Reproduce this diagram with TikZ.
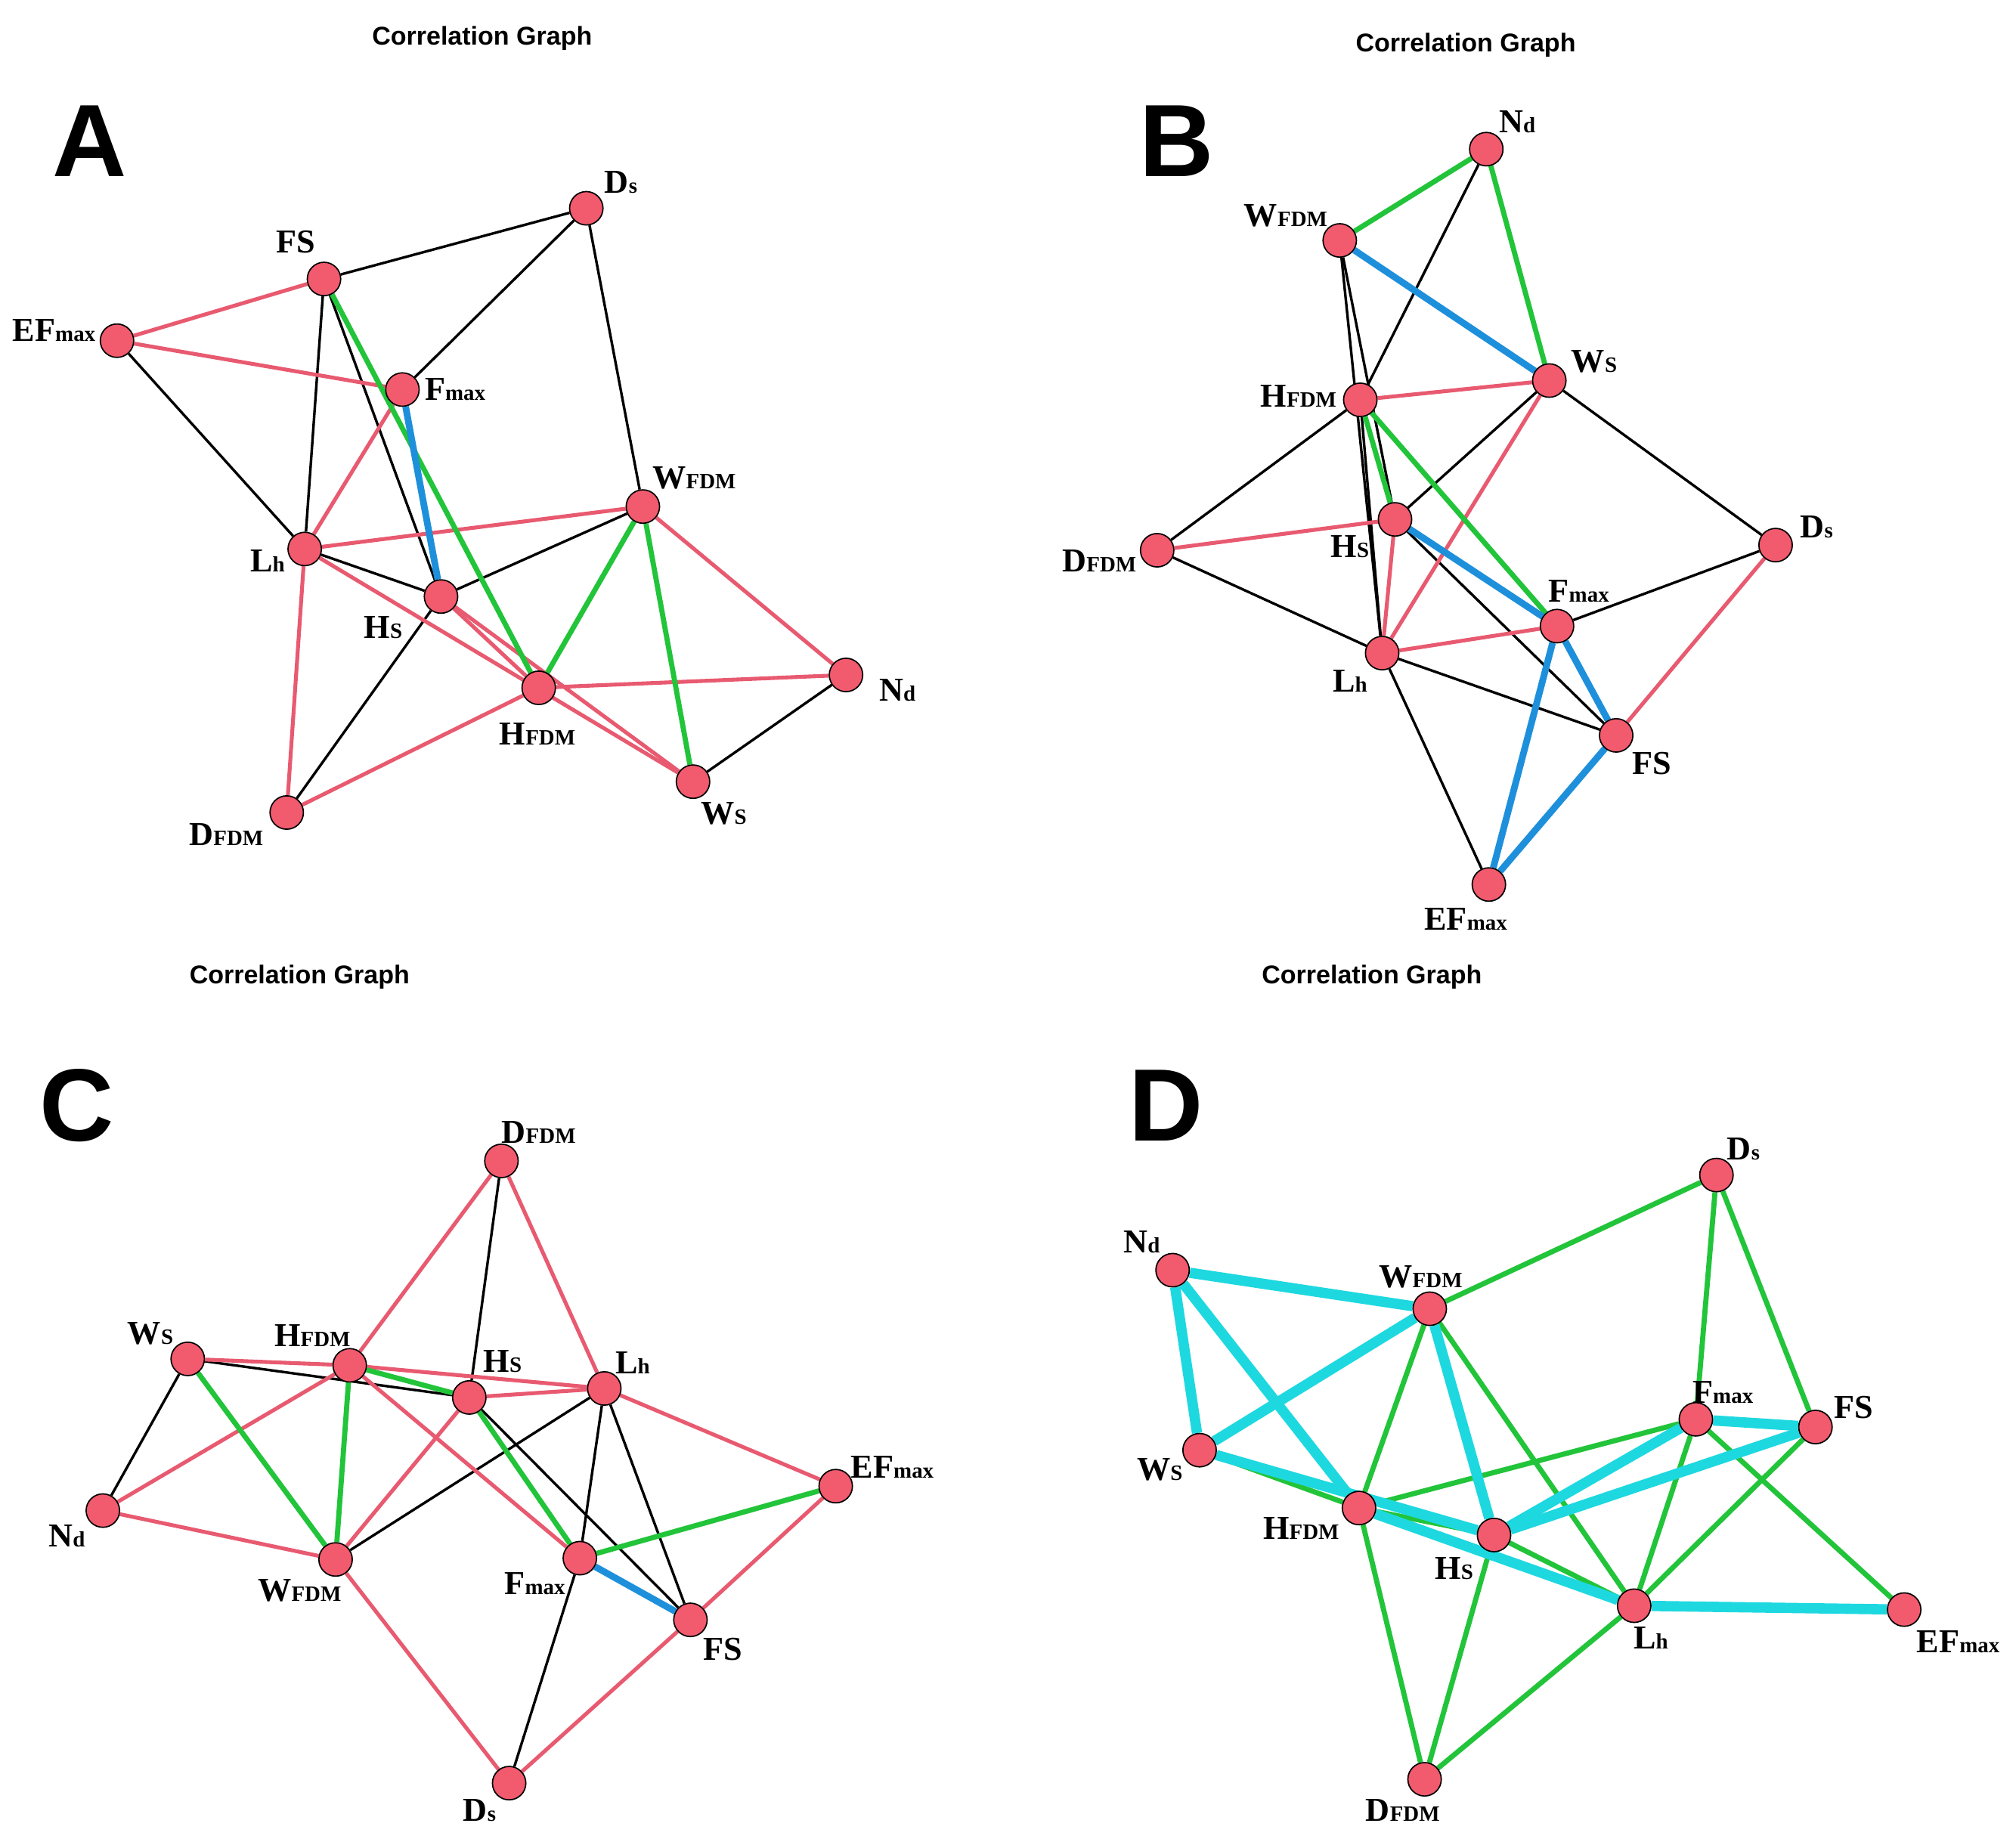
\documentclass[tikz,border=0pt]{standalone}
\usepackage{fontspec}
\usetikzlibrary{backgrounds}
\setmainfont{Liberation Serif}
\newfontfamily\sansf{Liberation Sans}
\definecolor{nred}{HTML}{F25A6E}
\definecolor{ered}{HTML}{E85A70}
\definecolor{egreen}{HTML}{22C43A}
\definecolor{eblue}{HTML}{1E90DB}
\definecolor{ecyan}{HTML}{1ED8E0}
\newcommand\lb[2]{{\fontsize{13}{14}\selectfont\bfseries #1}{\fontsize{8.5}{9}\selectfont\bfseries #2}}
\newcommand\V[6]{\node[v] (#1) at (#2,#3) {}; \node[lab] (#1l) at (#4,#5) {#6};}
\newcommand\E[2]{\foreach \p/\q in {#2} \draw[#1] (\p) -- (\q);}
\begin{document}
\begin{tikzpicture}[x=0.5pt,y=-0.5pt,
  v/.style={circle,draw=black,line width=0.5pt,fill=nred,minimum size=13pt,inner sep=0pt},
  lab/.style={inner sep=0pt},
  k/.style={draw=black,line width=1pt},
  r/.style={draw=ered,line width=1.5pt},
  g/.style={draw=egreen,line width=2pt},
  b/.style={draw=eblue,line width=2.6pt},
  c/.style={draw=ecyan,line width=4pt},
  ttl/.style={font=\sansf\bfseries\fontsize{10}{11}\selectfont},
  pl/.style={font=\sansf\bfseries\fontsize{40}{40}\selectfont}]
\useasboundingbox (0,0) rectangle (1568,1437);
\node[ttl] (t1) at (375,30) {Correlation Graph};
\node[ttl] (t2) at (1140,35) {Correlation Graph};
\node[ttl] (t3) at (233,760) {Correlation Graph};
\node[ttl] (t4) at (1067,760) {Correlation Graph};
\node[pl] (pA) at (70,110) {A};
\node[pl] (pB) at (915,110) {B};
\node[pl] (pC) at (60,860) {C};
\node[pl] (pD) at (907,860) {D};
% ---------- A
\V{aFS}{252}{217}{230}{188}{\lb{FS}{}}
\V{aDs}{456}{162}{483}{142}{\lb{D}{s}}
\V{aEF}{91}{265}{42}{257}{\lb{EF}{max}}
\V{aFm}{313}{303}{354}{303}{\lb{F}{max}}
\V{aWF}{500}{394}{540}{372}{\lb{W}{FDM}}
\V{aLh}{237}{427}{208}{436}{\lb{L}{h}}
\V{aHs}{343}{464}{298}{488}{\lb{H}{S}}
\V{aNd}{658}{525}{698}{537}{\lb{N}{d}}
\V{aHF}{419}{535}{418}{571}{\lb{H}{FDM}}
\V{aWs}{539}{608}{563}{633}{\lb{W}{S}}
\V{aDF}{223}{632}{176}{649}{\lb{D}{FDM}}
% ---------- B
\V{bNd}{1156}{116}{1180}{95}{\lb{N}{d}}
\V{bWF}{1042}{187}{1000}{168}{\lb{W}{FDM}}
\V{bWs}{1205}{296}{1240}{281}{\lb{W}{S}}
\V{bHF}{1058}{311}{1010}{308}{\lb{H}{FDM}}
\V{bDF}{900}{428}{855}{436}{\lb{D}{FDM}}
\V{bHs}{1085}{404}{1050}{425}{\lb{H}{S}}
\V{bDs}{1381}{424}{1413}{410}{\lb{D}{s}}
\V{bFm}{1211}{487}{1228}{460}{\lb{F}{max}}
\V{bLh}{1075}{508}{1050}{530}{\lb{L}{h}}
\V{bFS}{1257}{572}{1285}{594}{\lb{FS}{}}
\V{bEF}{1158}{688}{1140}{715}{\lb{EF}{max}}
% ---------- C
\V{cDF}{390}{903}{419}{881}{\lb{D}{FDM}}
\V{cWs}{146}{1057}{117}{1037}{\lb{W}{S}}
\V{cHF}{272}{1062}{243}{1039}{\lb{H}{FDM}}
\V{cHs}{365}{1087}{391}{1059}{\lb{H}{S}}
\V{cLh}{470}{1080}{492}{1060}{\lb{L}{h}}
\V{cEF}{650}{1156}{694}{1141}{\lb{EF}{max}}
\V{cNd}{80}{1175}{52}{1195}{\lb{N}{d}}
\V{cWF}{261}{1213}{233}{1237}{\lb{W}{FDM}}
\V{cFm}{451}{1212}{416}{1232}{\lb{F}{max}}
\V{cFS}{537}{1260}{562}{1283}{\lb{FS}{}}
\V{cDs}{396}{1387}{373}{1408}{\lb{D}{s}}
% ---------- D
\V{dDs}{1335}{914}{1356}{894}{\lb{D}{s}}
\V{dNd}{912}{988}{888}{966}{\lb{N}{d}}
\V{dWF}{1112}{1018}{1105}{993}{\lb{W}{FDM}}
\V{dFm}{1319}{1104}{1340}{1083}{\lb{F}{max}}
\V{dFS}{1412}{1110}{1442}{1095}{\lb{FS}{}}
\V{dWs}{933}{1128}{902}{1143}{\lb{W}{S}}
\V{dHF}{1057}{1173}{1012}{1189}{\lb{H}{FDM}}
\V{dHs}{1162}{1194}{1131}{1220}{\lb{H}{S}}
\V{dLh}{1271}{1249}{1284}{1274}{\lb{L}{h}}
\V{dEF}{1481}{1252}{1523}{1277}{\lb{EF}{max}}
\V{dDF}{1108}{1384}{1091}{1408}{\lb{D}{FDM}}
\begin{scope}[on background layer]
% A
\E{k}{aFS/aDs,aDs/aFm,aDs/aWF,aEF/aLh,aFS/aLh,aFS/aHs,aLh/aHs,aHs/aWF,aHs/aDF,aWs/aNd}
\E{r}{aEF/aFS,aEF/aFm,aFm/aLh,aLh/aWF,aLh/aWs,aHs/aHF,aHs/aWs,aLh/aDF,aDF/aHF,aHF/aNd,aWF/aNd}
\E{g}{aFS/aHF,aWF/aHF,aWF/aWs}
\E{b}{aFm/aHs}
% B
\E{k}{bNd/bHF,bWF/bHs,bWF/bLh,bHF/bLh,bHF/bDF,bWs/bHs,bWs/bDs,bDF/bLh,bDs/bFm,bLh/bFS,bHs/bFS,bLh/bEF}
\E{r}{bHF/bWs,bDF/bHs,bHs/bLh,bWs/bLh,bLh/bFm,bDs/bFS}
\E{g}{bWF/bNd,bNd/bWs,bHF/bFm,bHF/bHs}
\E{b}{bWF/bWs,bHs/bFm,bFm/bEF,bFm/bFS,bFS/bEF}
% C
\E{k}{cWs/cHs,cWF/cLh,cHs/cFS,cLh/cFm,cLh/cFS,cDF/cHs,cNd/cWs,cFm/cDs}
\E{r}{cWs/cHF,cHF/cLh,cHs/cLh,cHF/cNd,cHF/cFm,cHs/cWF,cLh/cEF,cDF/cHF,cDF/cLh,cNd/cWF,cWF/cDs,cDs/cFS,cFS/cEF}
\E{g}{cHF/cHs,cWs/cWF,cHF/cWF,cHs/cFm,cFm/cEF}
\E{b}{cFm/cFS}
% D
\E{g}{dWF/dHF,dWF/dLh,dWF/dDs,dHF/dFm,dHF/dHs,dHs/dLh,dHF/dDF,dHs/dDF,dLh/dDF,dFm/dLh,dFS/dLh,dFm/dEF,dDs/dFm,dDs/dFS,dWs/dHF}
\E{c}{dNd/dWF,dNd/dWs,dNd/dHF,dWs/dWF,dWs/dHs,dWF/dHs,dHF/dLh,dHs/dFm,dHs/dFS,dFm/dFS,dLh/dEF}
\end{scope}
\end{tikzpicture}
\end{document}
